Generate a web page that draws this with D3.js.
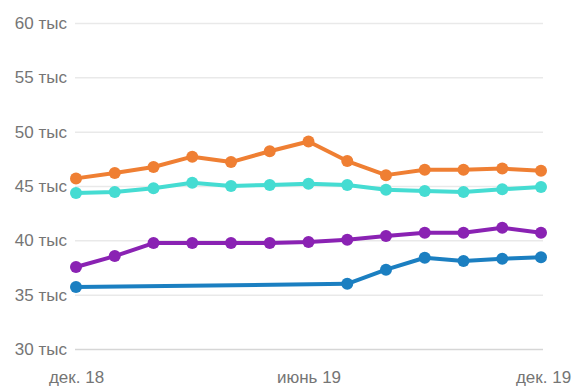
<!DOCTYPE html>
<html>
<head>
<meta charset="utf-8">
<script src="https://cdn.jsdelivr.net/npm/d3@7"></script>
<style>
  body { margin: 0; background: #fff; }
  text { font-family: "Liberation Sans", Arial, sans-serif; }
</style>
</head>
<body>
<div id="chart"></div>
<script>
const months = ["дек. 18", "янв. 19", "февр. 19", "март 19", "апр. 19", "май 19", "июнь 19",
  "июль 19", "авг. 19", "сент. 19", "окт. 19", "нояб. 19", "дек. 19"];
const xTicks = [0, 6, 12];
const yTicks = [30, 35, 40, 45, 50, 55, 60];

const orangeValues = [45.7, 46.2, 46.75, 47.7, 47.2, 48.2, 49.1, 47.3, 46.0, 46.5, 46.5, 46.6, 46.4];
const cyanValues = [44.35, 44.45, 44.8, 45.3, 45.0, 45.1, 45.2, 45.1, 44.65, 44.55, 44.45, 44.7, 44.9];
const purpleValues = [37.55, 38.55, 39.75, 39.75, 39.75, 39.75, 39.85, 40.05, 40.4, 40.7, 40.7, 41.15, 40.7];
const blueValues = [35.7, null, null, null, null, null, null, 36.0, 37.3, 38.4, 38.1, 38.3, 38.45];

const series = [
  { color: "#1b7fc1", values: blueValues },
  { color: "#8a22b3", values: purpleValues },
  { color: "#45dcd2", values: cyanValues },
  { color: "#ef7f33", values: orangeValues }
];

const width = 574;
const height = 387;
const margin = { top: 23, right: 31, bottom: 38, left: 75 };

const svg = d3.select("#chart")
  .append("svg")
  .attr("width", width)
  .attr("height", height);

const x = d3.scaleLinear()
  .domain([0, months.length - 1])
  .range([margin.left + 1, width - margin.right - 2]);

const y = d3.scaleLinear()
  .domain([30, 60])
  .range([height - margin.bottom, margin.top]);

// horizontal grid
const grid = svg.append("g")
  .attr("transform", `translate(${margin.left}, 0)`)
  .call(d3.axisLeft(y)
    .tickValues(yTicks)
    .tickSize(-(width - margin.left - margin.right))
    .tickFormat(""));
grid.select(".domain").remove();
grid.selectAll(".tick line")
  .attr("stroke", (d) => d === 30 ? "#d6d6d6" : "#e9e9e9")
  .attr("stroke-width", 1.5);

// y labels
const yAxis = svg.append("g")
  .attr("transform", `translate(${margin.left - 5}, 0)`)
  .call(d3.axisLeft(y)
    .tickValues(yTicks)
    .tickSize(0)
    .tickFormat(d => d + " тыс"));
yAxis.select(".domain").remove();
yAxis.selectAll("text")
  .attr("fill", "#757575")
  .attr("font-size", 17);

// x labels
const xAxis = svg.append("g")
  .attr("transform", `translate(0, ${height - margin.bottom + 19})`)
  .call(d3.axisBottom(x)
    .tickValues(xTicks)
    .tickSize(0)
    .tickFormat(i => months[i]));
xAxis.select(".domain").remove();
xAxis.selectAll("text")
  .attr("fill", "#757575")
  .attr("font-size", 17)
  .attr("dx", (d) => d === 12 ? 2 : 0);

const line = d3.line()
  .x(d => x(d.i))
  .y(d => y(d.v));

series.forEach(s => {
  const pts = s.values
    .map((v, i) => ({ i, v }))
    .filter(d => d.v !== null);

  svg.append("path")
    .datum(pts)
    .attr("fill", "none")
    .attr("stroke", s.color)
    .attr("stroke-width", 4)
    .attr("stroke-linejoin", "round")
    .attr("d", line);

  svg.append("g")
    .selectAll("circle")
    .data(pts)
    .enter()
    .append("circle")
    .attr("cx", d => x(d.i))
    .attr("cy", d => y(d.v))
    .attr("r", 6)
    .attr("fill", s.color);
});
</script>
</body>
</html>
